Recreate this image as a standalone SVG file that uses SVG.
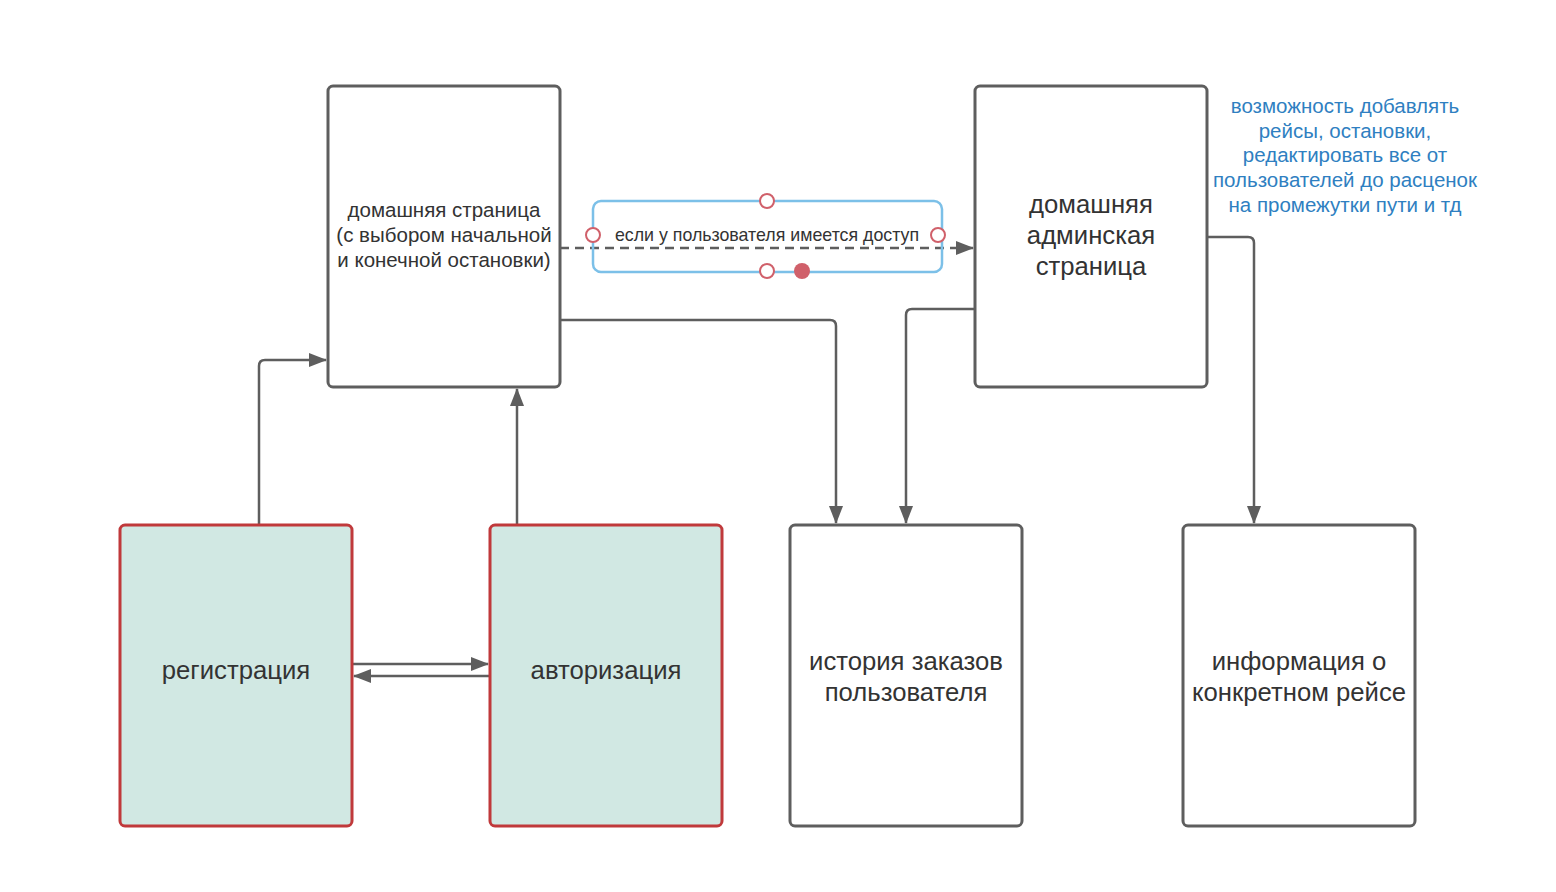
<svg xmlns="http://www.w3.org/2000/svg" width="1556" height="892" viewBox="0 0 1556 892">
<style>
.node{fill:#ffffff;stroke:#5e5e5e;stroke-width:3}
.green{fill:#d1e8e3;stroke:#c0393b;stroke-width:3}
.t{font-family:"Liberation Sans",Arial,sans-serif;fill:#333333;text-anchor:middle}
.blue{font-family:"Liberation Sans",Arial,sans-serif;fill:#2f7fc1;text-anchor:middle;font-size:20.5px}
.c{fill:none;stroke:#5e5e5e;stroke-width:2.5}
.hc{fill:#ffffff;stroke:#d0606a;stroke-width:2}
</style>
<defs>
<marker id="ah" viewBox="0 0 18 14" refX="17" refY="7" markerWidth="18" markerHeight="14" markerUnits="userSpaceOnUse" orient="auto-start-reverse">
<path d="M0 0 L18 7 L0 14 Z" fill="#5e5e5e"/>
</marker>
</defs>
<rect width="1556" height="892" fill="#ffffff"/>
<g id="connectors">
<path class="c" d="M259 525 V366 Q259 360 265 360 H326" marker-end="url(#ah)"/>
<path class="c" d="M517 525 V389" marker-end="url(#ah)"/>
<path class="c" d="M352 664 H488" marker-end="url(#ah)"/>
<path class="c" d="M490 676 H354" marker-end="url(#ah)"/>
<path class="c" d="M560 320 H830 Q836 320 836 326 V523" marker-end="url(#ah)"/>
<path class="c" d="M975 309 H912 Q906 309 906 315 V523" marker-end="url(#ah)"/>
<path class="c" d="M1207 237 H1248 Q1254 237 1254 243 V523" marker-end="url(#ah)"/>
<path class="c" d="M560 248 H973" stroke-dasharray="9 6" marker-end="url(#ah)"/>
<g id="edge-label">
<rect x="593" y="201" width="349" height="71" rx="8" fill="none" stroke="#7cc0e8" stroke-width="2.5"/>
<text class="t" x="767" y="241" font-size="17.8">если у пользователя имеется доступ</text>
<circle class="hc" cx="767" cy="201" r="7"/>
<circle class="hc" cx="593" cy="235" r="7"/>
<circle class="hc" cx="938" cy="235" r="7"/>
<circle class="hc" cx="767" cy="271" r="7"/>
<circle cx="802" cy="271" r="8" fill="#d0606a"/>
</g>
</g>
<g id="home">
<rect class="node" x="328" y="86" width="232" height="301" rx="5"/>
<text class="t" font-size="20.5"><tspan x="444" y="217">домашняя страница</tspan><tspan x="444" y="242">(с выбором начальной</tspan><tspan x="444" y="267">и конечной остановки)</tspan></text>
</g>
<g id="admin">
<rect class="node" x="975" y="86" width="232" height="301" rx="5"/>
<text class="t" font-size="25.7"><tspan x="1091" y="213">домашняя</tspan><tspan x="1091" y="244">админская</tspan><tspan x="1091" y="275">страница</tspan></text>
</g>
<g id="admin-note">
<text class="blue"><tspan x="1345" y="113">возможность добавлять</tspan><tspan x="1345" y="138">рейсы, остановки,</tspan><tspan x="1345" y="162">редактировать все от</tspan><tspan x="1345" y="187">пользователей до расценок</tspan><tspan x="1345" y="212">на промежутки пути и тд</tspan></text>
</g>
<g id="registration">
<rect class="green" x="120" y="525" width="232" height="301" rx="5"/>
<text class="t" font-size="25.7" x="236" y="679">регистрация</text>
</g>
<g id="authorization">
<rect class="green" x="490" y="525" width="232" height="301" rx="5"/>
<text class="t" font-size="25.7" x="606" y="679">авторизация</text>
</g>
<g id="history">
<rect class="node" x="790" y="525" width="232" height="301" rx="5"/>
<text class="t" font-size="25.7"><tspan x="906" y="670">история заказов</tspan><tspan x="906" y="701">пользователя</tspan></text>
</g>
<g id="info">
<rect class="node" x="1183" y="525" width="232" height="301" rx="5"/>
<text class="t" font-size="25.7"><tspan x="1299" y="670">информация о</tspan><tspan x="1299" y="701">конкретном рейсе</tspan></text>
</g>
</svg>
